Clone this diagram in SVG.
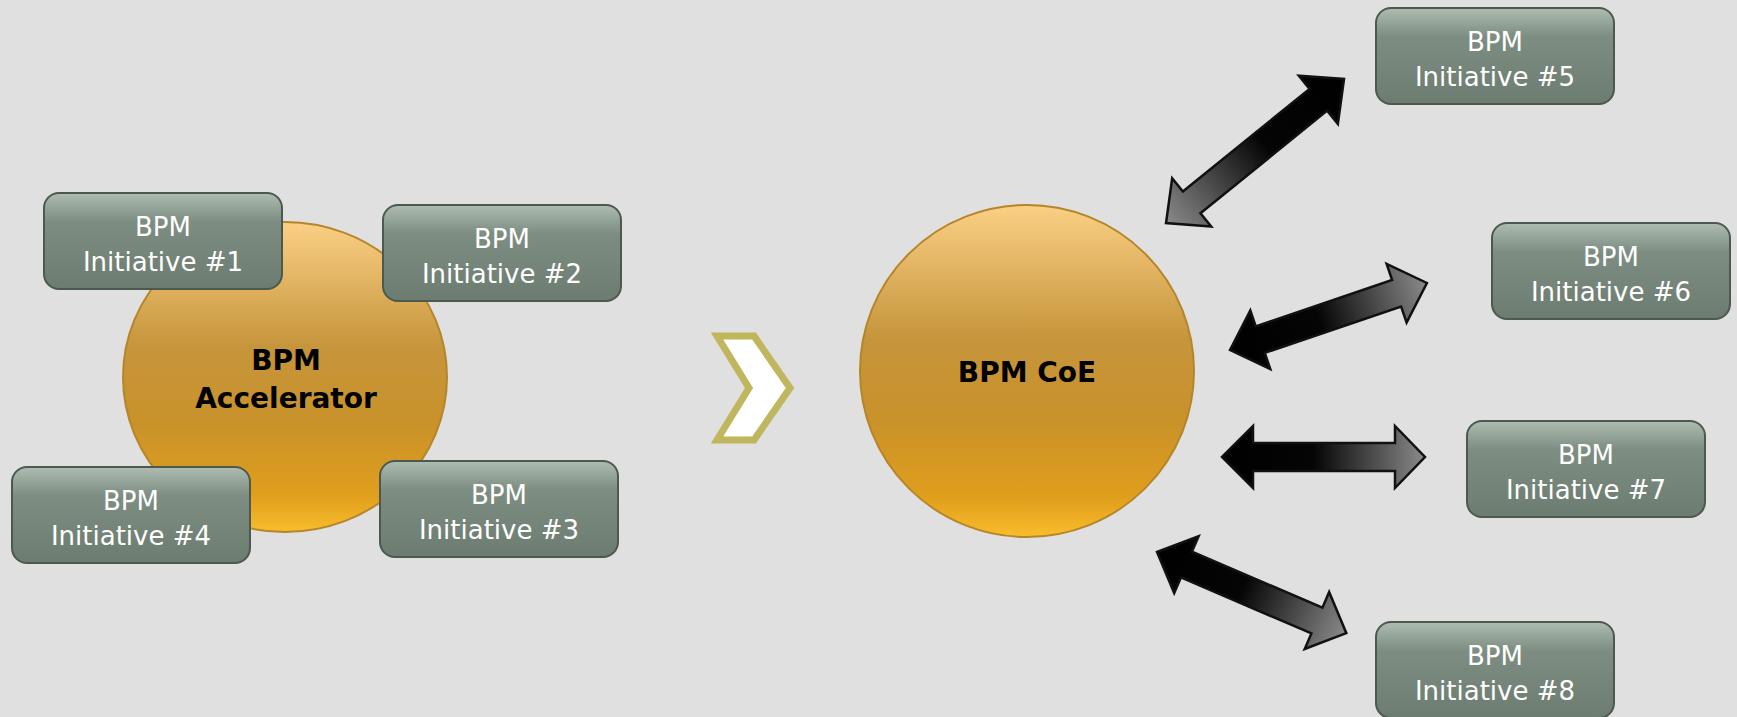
<svg xmlns="http://www.w3.org/2000/svg" width="1737" height="717" viewBox="0 0 1737 717">
<defs>
<linearGradient id="boxG" x1="0" y1="0" x2="0" y2="1">
<stop offset="0" stop-color="#aebcb1"/>
<stop offset="0.3" stop-color="#7d8d81"/>
<stop offset="1" stop-color="#6c7c70"/>
</linearGradient>
<linearGradient id="circG" x1="0" y1="0" x2="0" y2="1">
<stop offset="0" stop-color="#fbd085"/>
<stop offset="0.4" stop-color="#c6953c"/>
<stop offset="0.65" stop-color="#c9922a"/>
<stop offset="0.88" stop-color="#e09e1c"/>
<stop offset="1" stop-color="#f8bd2c"/>
</linearGradient>
<linearGradient id="arrG" x1="0" y1="0" x2="1" y2="0">
<stop offset="0" stop-color="#000"/>
<stop offset="0.45" stop-color="#050505"/>
<stop offset="1" stop-color="#8a8a8a"/>
</linearGradient>
<style>
.box{fill:url(#boxG);stroke:#4b594e;stroke-width:2}
.bt{font-family:"DejaVu Sans",sans-serif;font-size:26px;fill:#fff;text-anchor:middle}
.circ{fill:url(#circG);stroke:#b5852a;stroke-width:2}
.ct{font-family:"DejaVu Sans",sans-serif;font-size:28px;font-weight:bold;fill:#000;text-anchor:middle}
.arr{fill:url(#arrG);stroke:#111;stroke-width:2.5;stroke-linejoin:miter}
</style>
</defs>
<rect x="0" y="0" width="1737" height="717" fill="#e0e0e0"/>

<g id="accelerator">
<ellipse class="circ" cx="285" cy="377" rx="162" ry="155"/>
<text class="ct" x="286" y="370">BPM</text>
<text class="ct" x="286" y="408">Accelerator</text>
</g>

<g id="init1">
<rect class="box" x="44" y="193" width="238" height="96" rx="15"/>
<text class="bt" x="163" y="236">BPM</text>
<text class="bt" x="163" y="271">Initiative #1</text>
</g>
<g id="init2">
<rect class="box" x="383" y="205" width="238" height="96" rx="15"/>
<text class="bt" x="502" y="248">BPM</text>
<text class="bt" x="502" y="283">Initiative #2</text>
</g>
<g id="init3">
<rect class="box" x="380" y="461" width="238" height="96" rx="15"/>
<text class="bt" x="499" y="504">BPM</text>
<text class="bt" x="499" y="539">Initiative #3</text>
</g>
<g id="init4">
<rect class="box" x="12" y="467" width="238" height="96" rx="15"/>
<text class="bt" x="131" y="510">BPM</text>
<text class="bt" x="131" y="545">Initiative #4</text>
</g>

<g id="chevron">
<polygon points="717,336 754,336 790,388 754,440 717,440 749,388" fill="#fff" stroke="#bfb65e" stroke-width="7" stroke-linejoin="miter"/>
</g>

<g id="coe">
<ellipse class="circ" cx="1027" cy="371" rx="167" ry="166"/>
<text class="ct" x="1027" y="382">BPM CoE</text>
</g>

<g id="init5">
<rect class="box" x="1376" y="8" width="238" height="96" rx="15"/>
<text class="bt" x="1495" y="51">BPM</text>
<text class="bt" x="1495" y="86">Initiative #5</text>
</g>
<g id="init6">
<rect class="box" x="1492" y="223" width="238" height="96" rx="15"/>
<text class="bt" x="1611" y="266">BPM</text>
<text class="bt" x="1611" y="301">Initiative #6</text>
</g>
<g id="init7">
<rect class="box" x="1467" y="421" width="238" height="96" rx="15"/>
<text class="bt" x="1586" y="464">BPM</text>
<text class="bt" x="1586" y="499">Initiative #7</text>
</g>
<g id="init8">
<rect class="box" x="1376" y="622" width="238" height="96" rx="15"/>
<text class="bt" x="1495" y="665">BPM</text>
<text class="bt" x="1495" y="700">Initiative #8</text>
</g>

<g id="connectors">
<path class="arr" transform="translate(1344,79) rotate(141)" d="M0,0 L33,-31 L33,-14 L196,-14 L196,-31 L229,0 L196,31 L196,14 L33,14 L33,31 Z"/>
<path class="arr" transform="translate(1230,350) rotate(-18.8)" d="M0,0 L32,-31 L32,-14 L176,-14 L176,-31 L208,0 L176,31 L176,14 L32,14 L32,31 Z"/>
<path class="arr" transform="translate(1222,457)" d="M0,0 L31,-31 L31,-14 L173,-14 L173,-31 L203,0 L173,31 L173,14 L31,14 L31,31 Z"/>
<path class="arr" transform="translate(1157,552) rotate(23.2)" d="M0,0 L32,-31 L32,-14 L174,-14 L174,-31 L206,0 L174,31 L174,14 L32,14 L32,31 Z"/>
</g>
</svg>
